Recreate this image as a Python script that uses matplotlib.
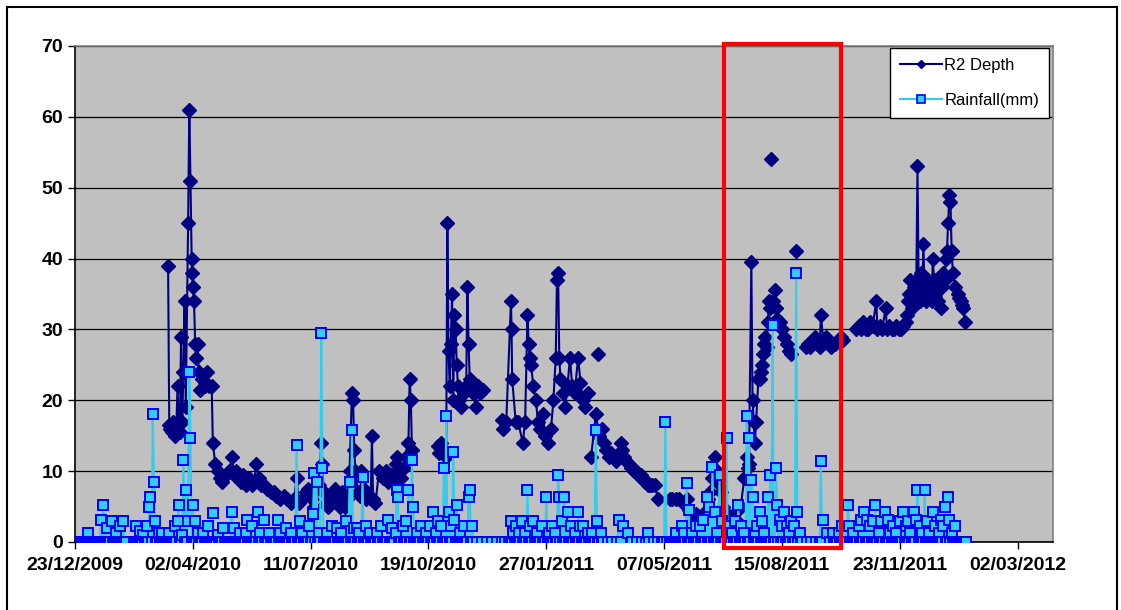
import numpy as np
import matplotlib
matplotlib.use("Agg")
import matplotlib.pyplot as plt
import matplotlib.dates as mdates
from matplotlib.patches import Rectangle
from matplotlib.lines import Line2D
from datetime import datetime

plt.rcParams['font.family'] = ['Liberation Sans', 'DejaVu Sans']

# day offsets are counted from 23/12/2009
start = datetime(2009, 12, 23)

# R2 depth readings (nan breaks the line where there are no readings)
depth_days = [
    79, 80, 81, 82, 83, 84, 85, 86, 87, 88, 89, 90, 91, 92, 93, 94, 96, 97, 98, 99,
    99.5, 100, 101, 102, 103, 104, 105, 106, 108, 110, 112, 114, 116, 117, 119, 121,
    123, 125, 128, 131, 133, 135, 137, 139, 141, 143, 145, 148, 150, 152, 154, 156,
    158, 160, 163, 166, 169, 171, 174, 177, 180, 183, 186, 188, 190, 193, 196, 198,
    201, 203, 205, 207, 209, 210, 211, 213, 215, 218, 221, 223, 225, 227, 229, 231,
    233, 235, 236, 237, 238, 240, 242, 243, 245, 247, 249, 251, 252, 253, 255, 258,
    261, 264, 266, 268, 270, 272, 273, 275, 277, 279, 281, 283, 284, 285, 286, 286,
    308, 309, 311, 313, 315, 316, 317, 318, 319, 320, 321, 322, 323, 324, 325, 326,
    328, 330, 332, 333, 334, 335, 336, 338, 340, 342, 344, 346, 346,
    362, 363, 366, 370, 370.5, 371, 374, 376, 380, 382, 384, 385, 386, 387, 389, 391,
    393, 395, 397, 399, 401, 404, 406, 408, 409, 410, 411, 412, 414, 416, 418, 420,
    422, 424, 427, 429, 431, 433, 435, 435, 444, 444,
    438, 442, 445, 447, 449, 451, 453, 455, 457, 459, 461, 463, 464, 466, 468, 470,
    472, 474, 476, 478, 480, 482, 484, 486, 488, 490, 492, 495, 495,
    505, 507, 510, 513, 516, 519, 521, 523, 525, 527, 529, 531, 533, 535, 537, 539,
    541, 543, 545, 547, 548, 550, 553, 556, 559, 562, 565, 568, 570, 571, 572, 574,
    575, 576, 577, 578, 580, 581, 582, 583, 584, 585, 586, 587, 588, 589, 590, 590,
    591, 591,
    592, 594, 595, 596, 598, 600, 602, 604, 606, 608, 608,
    612, 612,
    620, 622, 624, 626, 628, 630, 632, 633, 635, 637, 640, 642, 645, 648, 650, 652, 652,
    663, 665, 667, 669, 671, 673, 675, 677, 680, 681, 683, 685, 688, 689, 691, 693,
    695, 697, 699, 701, 703, 705, 706, 707, 708, 709, 710, 711, 712, 713, 714, 715,
    716, 717, 718, 719, 720, 721, 722, 724, 725, 726, 727, 728, 729, 730, 731, 732,
    733, 734, 735, 736, 737, 738, 739, 740, 741, 742, 743, 744, 745, 747, 749, 750,
    752, 753, 754, 755,
]
nan = np.nan
depth_m = [
    39, 16.5, 16, 15.5, 17, 16, 15, 16, 22, 17, 15.5, 29, 17, 24, 34, 19, 45, 61, 51, 40,
    38, 36, 34, 28, 26, 28, 24, 21.5, 23, 22, 24, 22, 22, 14, 11, 10,
    9, 8.5, 9.5, 10, 12, 9.5, 10, 9, 8.5, 9.5, 8, 9, 8, 8.5, 11, 9,
    8, 8, 7.5, 7, 7, 6.5, 6, 6.5, 6, 5.5, 6, 9, 5.5, 6, 7, 7.5,
    6, 5, 7.5, 8, 14, 11, 7, 5.5, 5, 6, 7.5, 6, 5, 7, 5, 6,
    10, 21, 20, 13, 10, 7, 6.5, 10, 7.5, 6, 6.5, 6, 15, 6, 5.5, 10,
    9, 10, 8.5, 9.5, 8.5, 11, 12, 10, 9, 10.5, 12, 14, 23, 20, 13, nan,
    13.5, 12.5, 14, 13, 12, 45, 27, 22, 28, 35, 20, 32, 30, 25, 22, 20,
    19, 21, 22, 36, 28, 23, 22, 21, 19, 22, 21, 21.5, nan,
    17.2, 16, 17, 34, 30, 23, 17, 17, 14, 17, 32, 28, 26, 25, 22, 20,
    17, 16, 18, 15, 14, 16, 20, 26, 37, 38, 26, 23, 21, 19, 22, 26,
    22, 21, 26, 22.5, 20, 19, 21, nan, 26.5, nan,
    12, 18, 15, 16, 14, 13, 12, 12.5, 12, 11.5, 12, 14, 13, 12, 11.5, 11,
    10.5, 10, 10, 9.5, 9.5, 9, 8.5, 8, 8, 8, 8, 6, nan,
    6, 6, 6, 6, 5.5, 6, 4.5, 4, 3.8, 4, 3.7, 3.5, 4, 4, 6, 7,
    9, 12, 10, 8, 7, 5, 4, 3.5, 4, 3, 5, 9, 12, 10.5, 11, 39.5,
    20, 17, 14, 17, 23, 23, 24, 25, 26.5, 28, 29, 27.5, 31, 34, 33, nan,
    54, nan,
    34, 35.5, 33, 31.5, 31, 30, 29, 28, 27, 26.6, nan,
    41, nan,
    27.5, 28, 27.5, 28.5, 29, 28, 27.5, 32, 28.5, 29, 28, 27.5, 28, 28.5, 29, 28.5, nan,
    30, 30.5, 30, 31, 30, 30, 31, 30.5, 34, 30, 30.5, 30, 33, 30, 30.5, 30,
    30, 30.5, 30, 30, 30.5, 31, 32, 34, 35, 37, 33, 34, 36, 35, 37, 53,
    36, 34, 38, 35, 42, 36, 34, 37, 35, 36, 34, 40, 37, 36, 37, 34,
    36, 37, 33, 36, 38, 37, 40, 41, 45, 49, 48, 41, 38, 36, 35, 34.5,
    34, 33.5, 33, 31,
]

# daily rain gauge records (inclusive day ranges) plus less frequent readings in between
rain_periods = [(5, 43), (50, 338), (368, 448), (507, 617), (646, 756)]
rain_sparse_days = [341, 345, 350, 354, 358, 362, 365,
                    452, 456, 460, 462, 463, 465, 469, 473, 477, 481, 485, 486, 487,
                    491, 495, 498, 500, 501, 502, 505,
                    621, 625, 629, 632, 633, 634, 635, 638, 641, 643, 644]

# days with measurable rainfall and the amount (mm)
rain_event_days = [
    11, 22, 24, 27, 31, 35, 38, 41, 52, 55, 58, 61, 63, 64, 66, 67, 68, 71, 74, 80,
    85, 87, 88, 91, 92, 94, 96, 97, 98, 100, 102, 104, 109, 113, 117, 121, 126, 133,
    135, 140, 145, 146, 150, 155, 157, 160, 165, 172, 174, 179, 183, 188, 191, 193,
    199, 202, 203, 205, 207, 209, 210, 214, 218, 222, 226, 230, 233, 235, 237, 239,
    241, 244, 247, 250, 256, 260, 266, 269, 272, 273, 274, 278, 281, 283, 286, 287,
    290, 294, 298, 301, 304, 306, 308, 311, 313, 315, 317, 319, 321, 322, 324, 327,
    330, 334, 335, 337,
    370, 372, 374, 377, 379, 382, 384, 386, 389, 392, 396, 400, 402, 405, 407, 410,
    411, 413, 415, 418, 421, 424, 427, 429, 431, 435, 439, 442, 443, 446,
    462, 465, 469, 486, 501,
    510, 515, 517, 519, 521, 524, 527, 530, 533, 536, 538, 541, 543, 545, 547, 549,
    553, 556, 558, 560, 563, 565, 568, 570, 572, 574, 575, 577, 579, 581, 583, 585,
    588, 590, 592, 595, 596, 598, 600, 602, 604, 606, 608, 610, 612, 613, 615,
    633, 635, 638, 643,
    648, 651, 654, 656, 657, 660, 665, 667, 670, 672, 675, 677, 679, 682, 684, 687,
    690, 692, 694, 697, 700, 703, 705, 707, 709, 712, 714, 715, 717, 719, 721, 723,
    725, 728, 730, 733, 735, 737, 738, 741, 742, 744, 747,
]
rain_event_mm = [
    1.3, 3.1, 5.2, 2, 3, 1.3, 2.2, 3, 2.2, 1.5, 1, 2.2, 5, 6.3, 18, 8.4, 3, 1.3, 1.2, 1.2,
    2.2, 3, 5.2, 1, 11.6, 7.3, 3, 24, 14.7, 5.2, 3, 1.2, 1.3, 2.2, 4.1, 1, 2, 4.2,
    2, 1.3, 1.3, 3.1, 2.2, 4.2, 1.3, 3.1, 1.3, 3.1, 1.2, 2, 1.3, 13.7, 3, 1.3,
    2.2, 4, 9.7, 8.5, 1.3, 29.5, 10.4, 1.3, 2.2, 2, 1.3, 3, 8.5, 15.8, 2, 2,
    1.2, 9.2, 2.2, 1.2, 1.3, 2.2, 3.1, 2, 1.3, 7.3, 6.4, 2.2, 3, 7.3, 11.6, 5,
    1.3, 2.2, 1.3, 2.2, 4.2, 1.3, 3, 2.2, 10.4, 17.8, 4.2, 2.2, 12.7, 3.1, 5.2, 1.2,
    2.2, 6.3, 7.3, 2.2,
    3, 1.3, 2.2, 1.3, 3, 1.3, 7.3, 2.2, 3, 1.3, 2.2, 6.3, 1.3, 2.2, 1.3, 9.5,
    6.3, 3, 6.3, 4.2, 2.2, 1.3, 4.2, 2.2, 2.2, 1.3, 1.3, 15.8, 3, 1.3,
    3.1, 2.2, 1.3, 1.3, 17,
    1.3, 2.2, 1.3, 8.3, 4.5, 1.3, 2.2, 2.2, 3.1, 6.4, 5, 10.6, 4.2, 1.3, 9.5, 3,
    14.7, 2.2, 1.3, 3, 5.2, 2.2, 1.3, 17.8, 14.7, 8.8, 6.4, 1.3, 2.2, 4.3, 3, 1.3,
    6.3, 9.5, 30.6, 10.4, 5.2, 3.1, 2.2, 4.2, 2.2, 1.3, 3, 2.2, 38, 4.2, 1.3,
    11.5, 3.1, 1.2, 1.2,
    1.3, 2.2, 1.3, 5.2, 2.3, 1.3, 2.2, 3.1, 4.2, 3.1, 2.2, 3, 5.2, 1.3, 3, 4.2,
    3.1, 1.3, 2.2, 1.3, 3, 4.2, 2.2, 3, 1.3, 4.2, 3.1, 7.3, 2.2, 1.3, 7.3, 3,
    1.3, 4.2, 2.2, 1.3, 3.1, 2.2, 5, 6.4, 3.1, 1.3, 2.2,
]

# highlighted period (day offsets)
box_days = (550.5, 650.5)

tick_step = 100
n_ticks = 9

# build the rainfall record
rec = set(rain_sparse_days) | set(rain_event_days)
for a, b in rain_periods:
    rec.update(range(a, b + 1))
rain_days = np.array(sorted(rec))
amounts = dict(zip(rain_event_days, rain_event_mm))
rain_mm = np.array([amounts.get(d, 0.0) for d in rain_days])

t0 = mdates.date2num(start)
depth_x = t0 + np.array(depth_days, dtype=float)
depth_y = np.array(depth_m, dtype=float)
rain_x = t0 + rain_days

fig = plt.figure(figsize=(11.21, 6.10), dpi=100)
fig.patch.set_facecolor('white')
ax = fig.add_axes([75 / 1121, 1 - 542 / 610, 978 / 1121, 496 / 610])
ax.set_facecolor('#C0C0C0')

ax.plot(depth_x, depth_y, color='#000080', lw=1.5, marker='D', ms=7.5,
        mfc='#000080', mec='#000080', label='R2 Depth', zorder=3)
ax.plot(rain_x, rain_mm, color='#33CCEE', lw=1.5, marker='s', ms=6.5,
        mfc='#33CCFF', mec='#0000FF', mew=1.4, label='Rainfall(mm)', zorder=4)

ax.set_ylim(0, 70)
ax.set_yticks(range(0, 71, 10))
ax.set_xlim(t0, t0 + 830)
ax.set_xticks([t0 + i * tick_step for i in range(n_ticks)])
ax.xaxis.set_major_formatter(mdates.DateFormatter('%d/%m/%Y'))
ax.yaxis.grid(True, color='black', lw=0.9)
ax.set_axisbelow(True)
ax.tick_params(axis='both', direction='out', length=5, width=1, colors='black',
               labelsize=14)
for lab in ax.get_xticklabels() + ax.get_yticklabels():
    lab.set_fontweight('bold')
ax.tick_params(axis='x', pad=6)
for side in ('top', 'right'):
    ax.spines[side].set_color('#808080')
    ax.spines[side].set_linewidth(1.2)
for side in ('left', 'bottom'):
    ax.spines[side].set_color('black')
    ax.spines[side].set_linewidth(1.2)

# red box around the highlighted period
ax.add_patch(Rectangle((t0 + box_days[0], -0.85), box_days[1] - box_days[0], 71.15,
                       fill=False, ec='#FF0000', lw=3, clip_on=False, zorder=6))

leg_handles = [
    Line2D([], [], color='#000080', lw=1.5, marker='D', ms=4.5, mfc='#000080', mec='#000080'),
    Line2D([], [], color='#33CCEE', lw=1.5, marker='s', ms=6, mfc='#33CCFF', mec='#0000FF', mew=1.2),
]
leg = ax.legend(leg_handles, ['R2 Depth', 'Rainfall(mm)'], loc='upper right',
                bbox_to_anchor=(0.996, 0.996), borderaxespad=0, fontsize=12,
                frameon=True, fancybox=False, framealpha=1, edgecolor='black',
                handlelength=2.5, handletextpad=0.15, labelspacing=1.2,
                borderpad=0.6)
leg.get_frame().set_linewidth(1)
leg.set_zorder(7)

# outer frame of the chart
for xs, ys in [((7, 7), (-5, 7)), ((7, 1117), (7, 7)), ((1117, 1117), (7, -5))]:
    fig.add_artist(Line2D([x / 1121 for x in xs], [1 - y / 610 if y >= 0 else 0 for y in ys],
                          color='black', lw=1.5))

fig.savefig('out.png', dpi=100)
